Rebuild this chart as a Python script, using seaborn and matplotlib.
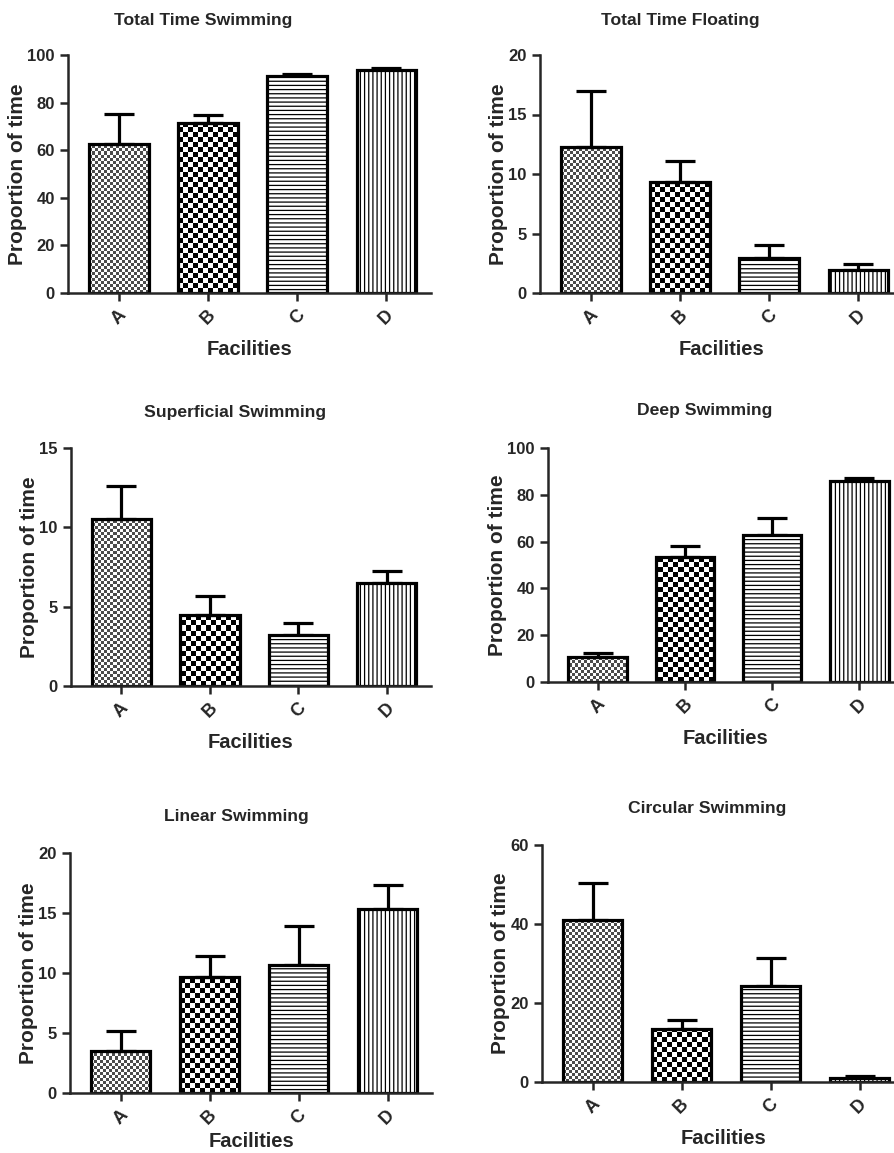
import numpy as np
import matplotlib
matplotlib.use("Agg")
import matplotlib.pyplot as plt
import seaborn as sns

# ---------------- data ----------------
facilities = ["A", "B", "C", "D"]

titles = ["Total Time Swimming", "Total Time Floating",
          "Superficial Swimming", "Deep Swimming",
          "Linear Swimming", "Circular Swimming"]

total_swim_mean = [62.8, 71.5, 91.0, 93.9]
total_swim_top = [75.4, 75.0, 92.0, 94.6]

total_float_mean = [12.3, 9.35, 2.95, 1.95]
total_float_top = [16.95, 11.1, 4.05, 2.45]

superficial_mean = [10.55, 4.5, 3.2, 6.48]
superficial_top = [12.58, 5.65, 4.0, 7.22]

deep_mean = [10.8, 53.3, 62.9, 86.0]
deep_top = [12.2, 58.3, 69.9, 87.3]

linear_mean = [3.53, 9.64, 10.64, 15.33]
linear_top = [5.2, 11.44, 13.9, 17.3]

circular_mean = [40.9, 13.4, 24.4, 1.1]
circular_top = [50.3, 15.6, 31.4, 1.45]

y_max = [100, 20, 15, 100, 20, 60]
y_step = [20, 5, 5, 20, 5, 20]

means = [total_swim_mean, total_float_mean, superficial_mean,
         deep_mean, linear_mean, circular_mean]
tops = [total_swim_top, total_float_top, superficial_top,
        deep_top, linear_top, circular_top]

# ---------------- style ----------------
sns.set_style("ticks")
plt.rcParams['font.family'] = ['Liberation Sans', 'DejaVu Sans']
plt.rcParams['font.weight'] = 'bold'
plt.rcParams['hatch.linewidth'] = 0.9

W, H = 894, 1153
fig = plt.figure(figsize=(W / 100, H / 100), dpi=100)

# axes boxes in pixels: left, top, bottom, width
boxes = [(68, 55, 293, 363), (540, 55, 293, 363),
         (71, 448, 686, 360), (548, 448, 682, 355),
         (70, 853, 1093, 362), (542, 845, 1082, 362)]
title_pos = [(203, 20), (680, 20), (235, 413), (705, 411), (236, 817), (707, 808)]
xlabel_pad = [9, 9, 9, 9, 3, 9]

XL = (-0.57, 3.5)
LW = 2.3


def checker(h, w, sq, dark):
    yy, xx = np.mgrid[0:h, 0:w]
    board = ((yy // sq + xx // sq) % 2).astype(float)
    return np.where(board > 0, 1.0, dark)


for i in range(6):
    l, t, b, w = boxes[i]
    ax = fig.add_axes([l / W, 1 - b / H, w / W, (b - t) / H])
    m = np.array(means[i])
    tp = np.array(tops[i])
    sns.barplot(x=facilities, y=m, ax=ax, width=0.67, color="white",
                edgecolor="black", linewidth=LW, errorbar=None,
                saturation=1)
    ax.errorbar(np.arange(4), m, yerr=[np.zeros(4), tp - m], fmt="none",
                ecolor="black", elinewidth=LW, capsize=10.5, capthick=LW,
                zorder=0.9)
    ax.set_xlim(*XL)
    ax.set_ylim(0, y_max[i])
    ax.set_yticks(np.arange(0, y_max[i] + 0.1, y_step[i]))

    bars = ax.patches[:4]
    # checkerboard fills for A and B
    hp = b - t
    for k, (sq, dark) in enumerate([(3, 0.3), (5, 0.0)]):
        bar = bars[k]
        bar.set_facecolor("none")
        img = checker(hp, w, sq, dark)
        im = ax.imshow(img, extent=(XL[0], XL[1], 0, y_max[i]), aspect="auto",
                       origin="lower", interpolation="nearest", cmap="gray",
                       vmin=0, vmax=1, zorder=0.5)
        im.set_clip_path(bar)
    bars[2].set_hatch("----")
    bars[3].set_hatch("||||")
    ax.set_xlim(*XL)
    ax.set_ylim(0, y_max[i])

    sns.despine(ax=ax)
    for s in ["left", "bottom"]:
        ax.spines[s].set_linewidth(1.8)
    ax.tick_params(axis="y", width=1.8, length=6, labelsize=12,
                   direction="out")
    ax.tick_params(axis="x", width=1.8, length=6, labelsize=13,
                   direction="out")
    for lab in ax.get_xticklabels():
        lab.set_rotation(45)
        lab.set_ha("center")
        lab.set_fontweight("bold")
    for lab in ax.get_yticklabels():
        lab.set_fontweight("bold")
    ax.set_xlabel("Facilities", fontsize=14.5, fontweight="bold",
                  labelpad=xlabel_pad[i])
    ax.set_ylabel("Proportion of time", fontsize=15, fontweight="bold",
                  labelpad=0)

    tx, ty = title_pos[i]
    fig.text(tx / W, 1 - ty / H, titles[i], ha="center", va="center",
             fontsize=12.6, fontweight="bold")

fig.savefig("out.png", dpi=100)
